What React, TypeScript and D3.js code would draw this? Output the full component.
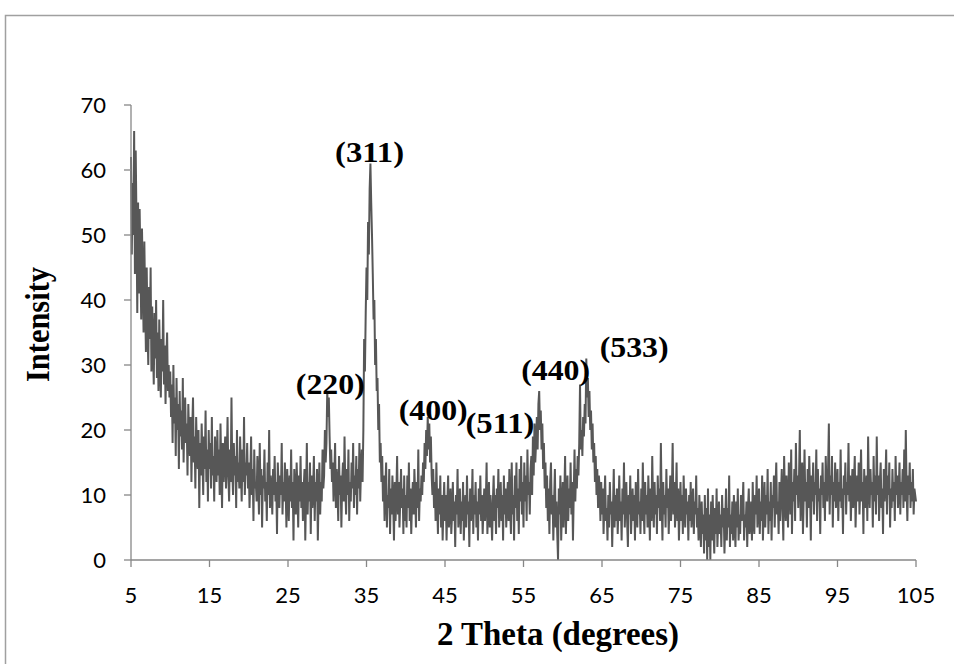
import React from "react";
import * as d3 from "d3";

// XRD pattern: intensity sampled every 0.1 degree of 2-theta, from 5 to 105
const THETA_START = 5;
const THETA_STEP = 0.1;

const seg05_10 = [62,47,58,50,66,44,63,52,38,55, 41,54,46,37,51,43,35,49,40,32, 45,36,30,42,34,45,29,39,33,27, 38,31,40,28,35,26,37,30,25,34, 29,40,27,33,24,31,35,26,30,25];
const seg10_15 = [29,22,27,18,30,21,25,16,28,20, 24,14,26,19,23,17,28,15,22,25, 18,21,13,24,19,16,22,12,20,25, 15,19,11,22,17,14,20,8,18,13, 21,16,10,19,14,23,12,17,9,20];
const seg15_20 = [14,18,11,22,13,16,9,19,15,12, 20,13,17,10,21,14,8,18,12,16, 19,11,15,22,13,9,17,12,25,14, 10,18,13,16,8,20,12,15,11,19, 14,9,17,12,22,10,15,13,18,11];
const seg20_25 = [15,8,13,19,10,14,6,17,11,12, 9,16,12,7,18,10,14,5,13,11, 17,9,12,6,15,10,20,8,13,11, 7,14,10,16,9,12,4,15,11,8, 13,10,18,7,12,9,15,11,5,14];
const seg25_30 = [10,6,13,9,17,8,12,3,14,10, 7,15,11,5,13,9,16,8,12,6, 11,14,3,10,18,7,12,9,15,4, 13,8,11,16,6,12,9,14,3,10, 15,7,12,9,17,11,13,20,15,18];
const seg30_35 = [26,22,25,19,14,17,12,15,9,13, 18,8,14,11,6,16,10,13,5,12, 15,9,19,11,7,14,10,17,6,12, 9,15,11,18,8,13,10,16,7,14, 11,18,9,14,17,12,20,34,29,38];
const seg35_40 = [45,40,52,47,57,61,55,50,44,37, 40,30,34,26,28,20,24,15,18,12, 16,9,13,6,11,15,5,10,8,14, 4,11,7,13,9,3,12,6,10,16, 7,12,5,9,14,8,11,4,13,6];
const seg40_45 = [10,5,13,8,15,6,11,4,9,12, 7,14,10,5,12,8,17,6,11,9, 13,10,15,12,18,14,20,16,22,17, 21,15,19,13,10,14,8,12,6,15, 9,4,11,7,13,5,10,3,8,12];
const seg45_50 = [6,10,3,9,13,5,8,11,4,7, 12,6,9,2,10,7,14,5,8,11, 4,9,6,12,3,8,10,5,13,7, 9,2,11,6,8,14,4,10,7,12, 5,9,3,11,7,13,6,10,4,8];
const seg50_55 = [11,6,9,15,4,8,12,5,10,7, 3,9,13,6,10,4,11,8,14,5, 9,12,6,10,3,13,7,11,5,9, 12,6,14,8,4,15,7,10,3,13, 8,15,6,11,4,14,9,16,7,12];
const seg55_60 = [5,15,9,13,6,17,10,12,7,14, 16,10,19,13,21,15,18,22,17,24, 26,20,23,17,21,14,18,11,15,8, 13,6,11,4,12,15,7,10,3,9, 14,5,9,4,0,11,7,13,3,8];
const seg60_65 = [12,5,10,16,4,9,13,6,11,8, 15,7,12,3,10,17,9,14,11,16, 13,18,27,17,20,16,22,19,24,21, 31,25,28,22,26,20,23,17,21,15, 18,12,16,10,14,8,13,11,6,12];
const seg65_70 = [7,11,4,9,13,6,8,3,10,5, 12,7,9,2,8,14,5,10,6,11, 4,8,13,6,9,3,11,7,15,5, 9,12,6,2,10,7,13,4,8,11, 6,10,3,12,8,5,14,7,9,4];
const seg70_75 = [11,6,15,8,4,12,7,10,5,13, 8,3,11,6,16,9,5,12,7,10, 4,13,8,11,6,18,9,3,12,7, 10,5,14,8,11,4,9,13,6,10, 18,7,12,5,9,15,6,11,3,8];
const seg75_80 = [12,6,10,4,13,8,5,11,7,9, 3,10,6,12,5,8,11,4,9,7, 13,5,8,3,10,6,2,9,4,7, 1,10,3,8,0,11,2,7,0,9, 3,10,5,1,8,4,11,2,6,9];
const seg80_85 = [4,7,2,10,5,8,1,6,11,3, 8,5,13,2,7,4,9,3,10,6, 2,9,5,11,3,7,4,10,6,8, 12,3,7,5,9,2,8,11,4,6, 9,3,12,6,4,10,7,13,5,8];
const seg85_90 = [11,4,9,6,13,3,8,12,5,10, 7,14,4,9,6,12,3,10,8,13, 5,11,15,7,9,4,12,6,10,14, 8,3,16,10,6,13,9,5,15,11, 7,17,4,12,9,14,6,18,10,13];
const seg90_95 = [8,13,20,6,11,15,4,10,17,9, 12,5,14,8,16,11,3,13,9,15, 7,12,10,17,6,14,9,11,4,13, 10,15,8,12,6,16,11,9,14,21, 7,13,10,16,5,12,9,15,8,11];
const seg95_100 = [14,6,12,9,17,8,11,4,13,10, 15,7,12,10,18,9,13,6,11,14, 8,12,16,5,10,13,9,15,7,11, 17,9,12,4,14,10,8,13,6,19, 11,8,14,10,12,5,16,9,13,7];
const seg100_105 = [19,10,13,6,12,15,8,11,4,14, 9,12,17,7,13,10,15,5,11,8, 14,9,12,6,16,10,13,8,11,15, 7,12,10,14,8,17,9,20,11,6, 13,10,15,8,12,9,14,7,11,10, 9];

const intensity = [
  ...seg05_10, ...seg10_15, ...seg15_20, ...seg20_25, ...seg25_30,
  ...seg30_35, ...seg35_40, ...seg40_45, ...seg45_50, ...seg50_55,
  ...seg55_60, ...seg60_65, ...seg65_70, ...seg70_75, ...seg75_80,
  ...seg80_85, ...seg85_90, ...seg90_95, ...seg95_100, ...seg100_105,
];

const xTicks = [5, 15, 25, 35, 45, 55, 65, 75, 85, 95, 105];
const yTicks = [0, 10, 20, 30, 40, 50, 60, 70];

// Miller index annotations: label, anchor 2-theta, anchor intensity (text baseline)
const peakLabels = ["(311)", "(220)", "(400)", "(511)", "(440)", "(533)"];
const peakTheta = [31.0, 26.0, 39.1, 47.6, 54.7, 64.7];
const peakValue = [61.2, 25.6, 21.6, 19.6, 27.7, 31.2];

export default function App() {
  const W = 954, H = 664;
  const x = d3.scaleLinear().domain([5, 105]).range([131, 916]);
  const y = d3.scaleLinear().domain([0, 70]).range([560, 105]);
  const pts = intensity.map((v, i) => [THETA_START + i * THETA_STEP, v] as [number, number]);
  const line = d3.line<[number, number]>().x(d => x(d[0])).y(d => y(d[1]));
  const axisColor = "#878787";
  const tickFont = "Lato, 'Open Sans', sans-serif";
  const serif = "'Liberation Serif', 'Times New Roman', serif";

  return (
    <svg width={W} height={H} style={{ position: "absolute", left: 0, top: 0, background: "#fff" }}>
      <rect x={5.5} y={15.5} width={1000} height={700} fill="#fff" stroke="#a0a0a0" strokeWidth={1.5} />
      {/* data */}
      <path d={line(pts) ?? ""} fill="none" stroke="#575757" strokeWidth={2} strokeLinejoin="miter" />
      {/* axes */}
      <line x1={131} x2={131} y1={y(70)} y2={y(0)} stroke={axisColor} strokeWidth={1.3} />
      <line x1={x(5)} x2={x(105)} y1={560} y2={560} stroke={axisColor} strokeWidth={1.3} />
      {yTicks.map(t => (
        <g key={"y" + t}>
          <line x1={124} x2={131} y1={y(t)} y2={y(t)} stroke={axisColor} strokeWidth={1.3} />
          <text x={106} y={y(t) + 8} textAnchor="end" fontFamily={tickFont} fontSize={22} fill="#000">{t}</text>
        </g>
      ))}
      {xTicks.map(t => (
        <g key={"x" + t}>
          <line x1={x(t)} x2={x(t)} y1={560} y2={567} stroke={axisColor} strokeWidth={1.3} />
          <text x={x(t)} y={603} textAnchor="middle" fontFamily={tickFont} fontSize={22} fill="#000">{t}</text>
        </g>
      ))}
      {/* axis titles */}
      <text x={437} y={645} fontFamily={serif} fontWeight="bold" fontSize={33} textLength={242} lengthAdjust="spacingAndGlyphs" fill="#000">2 Theta (degrees)</text>
      <text transform={`translate(49,382) rotate(-90)`} fontFamily={serif} fontWeight="bold" fontSize={33} textLength={115} lengthAdjust="spacingAndGlyphs" fill="#000">Intensity</text>
      {/* peak labels */}
      {peakLabels.map((l, i) => (
        <text key={l} x={x(peakTheta[i])} y={y(peakValue[i])} fontFamily={serif} fontWeight="bold" fontSize={29} textLength={69} lengthAdjust="spacingAndGlyphs" fill="#000">{l}</text>
      ))}
    </svg>
  );
}
